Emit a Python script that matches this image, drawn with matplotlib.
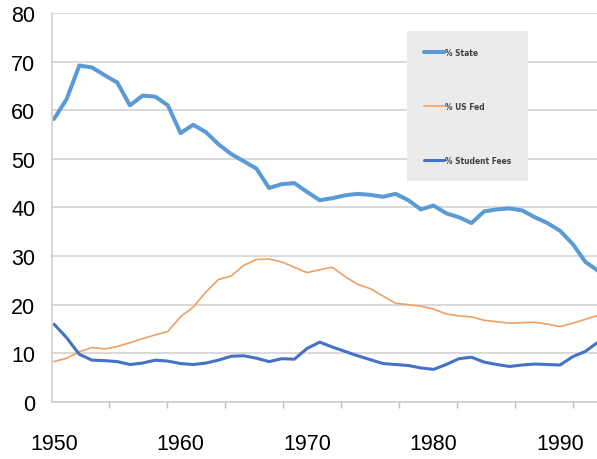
import numpy as np
import matplotlib
matplotlib.use('Agg')
import matplotlib.pyplot as plt
from matplotlib.ticker import FixedLocator

# Data (percent of revenue, by year)
years = list(range(1950, 1994))
state = [58.2, 62.3, 69.2, 68.8, 67.2, 65.7, 61.0, 63.0, 62.8, 61.0,
         55.3, 57.0, 55.5, 53.0, 51.0, 49.5, 48.0, 44.0, 44.8, 45.0,
         43.2, 41.5, 41.9, 42.5, 42.8, 42.6, 42.2, 42.8, 41.5, 39.6,
         40.4, 38.8, 38.0, 36.8, 39.2, 39.6, 39.8, 39.4, 38.0, 36.8,
         35.2, 32.5, 28.8, 27.0]
us_fed = [8.3, 9.0, 10.3, 11.2, 10.9, 11.4, 12.2, 13.0, 13.8, 14.5,
          17.5, 19.5, 22.6, 25.2, 25.9, 28.1, 29.3, 29.4, 28.8, 27.7,
          26.6, 27.2, 27.7, 25.8, 24.2, 23.3, 21.8, 20.3, 20.0, 19.7,
          19.1, 18.1, 17.7, 17.5, 16.8, 16.5, 16.2, 16.3, 16.4, 16.0,
          15.5, 16.2, 17.0, 17.8]
student_fees = [16.0, 13.2, 9.8, 8.6, 8.5, 8.3, 7.7, 8.0, 8.6, 8.4,
                7.9, 7.7, 8.0, 8.6, 9.4, 9.5, 9.0, 8.3, 8.9, 8.8,
                11.0, 12.3, 11.3, 10.4, 9.5, 8.7, 7.9, 7.7, 7.5, 7.0,
                6.7, 7.7, 8.9, 9.2, 8.2, 7.7, 7.3, 7.6, 7.8, 7.7,
                7.6, 9.3, 10.4, 12.3]
decade_labels = [1950, 1960, 1970, 1980, 1990]
y_ticks = [0, 10, 20, 30, 40, 50, 60, 70, 80]

plt.rcParams['font.family'] = 'Liberation Sans'

fig = plt.figure(figsize=(5.97, 4.60), dpi=100)
ax = fig.add_axes([0.0871, 0.124, 0.9129, 0.8456])

ax.plot(years, state, color='#5b9bd5', lw=2.9, label='% State', solid_capstyle='round')
ax.plot(years, us_fed, color='#f0a060', lw=1.2, label='% US Fed')
ax.plot(years, student_fees, color='#4472c4', lw=2.2, label='% Student Fees', solid_capstyle='round')

ax.set_xlim(1949.84, 1992.92)
ax.set_ylim(0, 80)

ax.set_yticks(y_ticks)
ax.yaxis.grid(True, color='#d9d9d9', lw=1.4)
ax.set_axisbelow(True)
ax.set_xticks(decade_labels)
ax.xaxis.set_minor_locator(FixedLocator(np.arange(1949.8, 1993, 4.58)))
ax.tick_params(axis='x', which='major', length=0, pad=22, labelsize=15.5)
ax.tick_params(axis='x', which='minor', length=4, color='#bfbfbf', width=1)
ax.tick_params(axis='y', length=0, pad=12, labelsize=15.5)

for side in ['top', 'right']:
    ax.spines[side].set_visible(False)
for side in ['left', 'bottom']:
    ax.spines[side].set_color('#d0d0d0')
    ax.spines[side].set_linewidth(1.2)

# legend in the grey box, condensed bold text
leg = ax.legend(loc='upper left', bbox_to_anchor=(0.644, 0.964),
                frameon=True, facecolor='#ebebeb', edgecolor='none', framealpha=1,
                fancybox=False, borderpad=2.0, labelspacing=5.4,
                handlelength=2.4, handletextpad=0.2,
                prop={'family': 'DejaVu Sans', 'stretch': 'condensed',
                      'size': 6, 'weight': 'bold'})
for t in leg.get_texts():
    t.set_color('#404040')

fig.savefig('out.png', dpi=100)
